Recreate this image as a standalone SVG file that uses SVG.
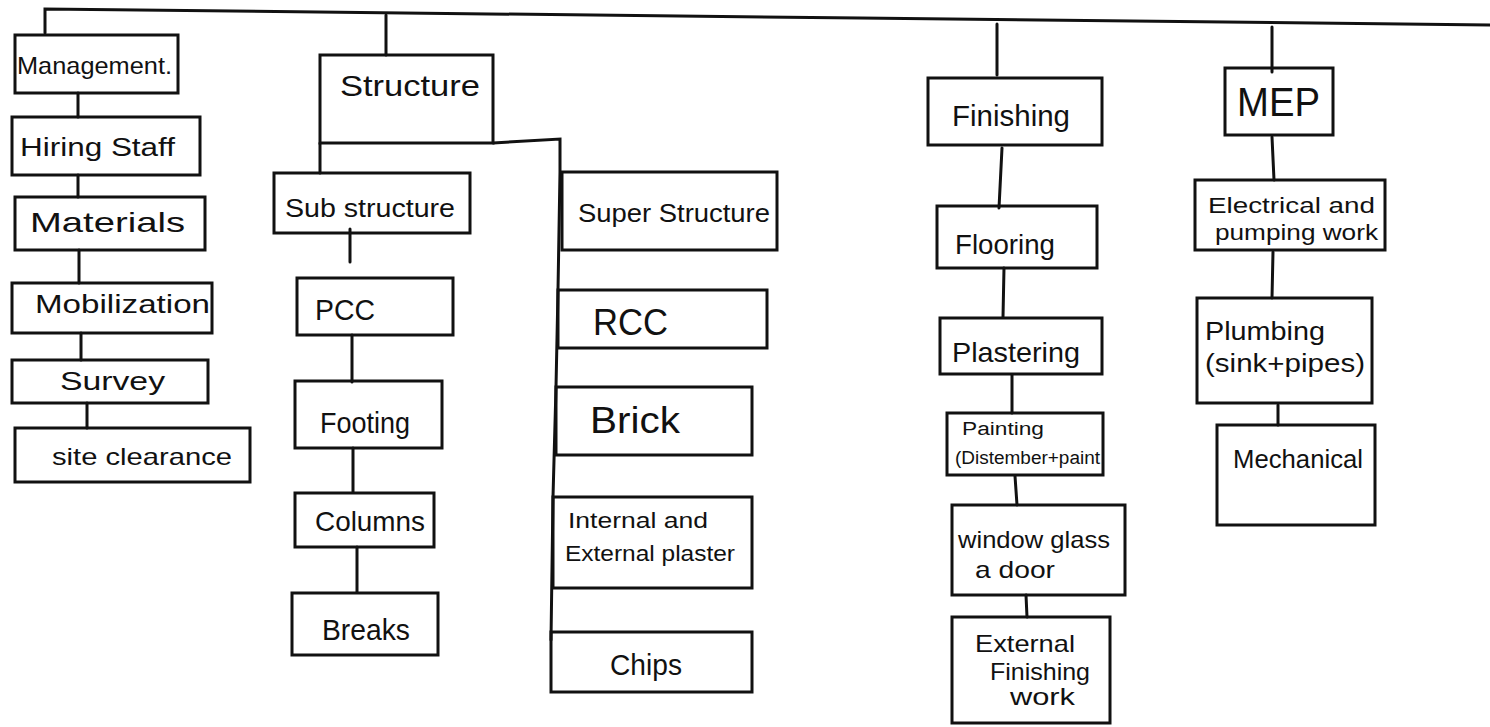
<svg xmlns="http://www.w3.org/2000/svg" width="1490" height="727" viewBox="0 0 1490 727">
<style>
.box{fill:none;stroke:#111;stroke-width:3;stroke-linejoin:miter}
.ln{fill:none;stroke:#111;stroke-width:3;stroke-linecap:round}
text{font-family:"Liberation Sans","DejaVu Sans",sans-serif;fill:#111}
</style>
<rect width="1490" height="727" fill="#fff"/>
<g id="connectors">
<path class="ln" d="M45 33 L45 9 L860 18 L1490 25"/>
<path class="ln" d="M78 93 L78 117"/>
<path class="ln" d="M78 175 L78 197"/>
<path class="ln" d="M79 250 L79 283"/>
<path class="ln" d="M81 333 L81 360"/>
<path class="ln" d="M87 403 L87 428"/>
<path class="ln" d="M386 15 L386 55"/>
<path class="ln" d="M320 143 L320 173"/>
<path class="ln" d="M493 143 L560 139 L560 172 L558 290 L556 387 L553 497 L551 640"/>
<path class="ln" d="M350 229 L350 262"/>
<path class="ln" d="M352 335 L352 382"/>
<path class="ln" d="M353 448 L353 492"/>
<path class="ln" d="M357 547 L357 592"/>
<path class="ln" d="M997 24 L997 75"/>
<path class="ln" d="M1002 148 L999 208"/>
<path class="ln" d="M1004 268 L1003 317"/>
<path class="ln" d="M1012 375 L1012 413"/>
<path class="ln" d="M1015 476 L1017 505"/>
<path class="ln" d="M1026 595 L1027 617"/>
<path class="ln" d="M1272 27 L1272 72"/>
<path class="ln" d="M1272 137 L1274 180"/>
<path class="ln" d="M1273 252 L1272 298"/>
<path class="ln" d="M1278 405 L1278 425"/>
</g>
<g id="management"><rect class="box" x="15" y="35" width="163" height="58"/><text x="17" y="74" font-size="24" textLength="155" lengthAdjust="spacingAndGlyphs">Management.</text></g>
<g id="hiring-staff"><rect class="box" x="12" y="117" width="188" height="58"/><text x="20" y="156" font-size="26" textLength="155" lengthAdjust="spacingAndGlyphs">Hiring Staff</text></g>
<g id="materials"><rect class="box" x="15" y="197" width="190" height="53"/><text x="30" y="232" font-size="28" textLength="155" lengthAdjust="spacingAndGlyphs">Materials</text></g>
<g id="mobilization"><rect class="box" x="12" y="283" width="200" height="50"/><text x="35" y="313" font-size="26" textLength="175" lengthAdjust="spacingAndGlyphs">Mobilization</text></g>
<g id="survey"><rect class="box" x="12" y="360" width="196" height="43"/><text x="60" y="390" font-size="26" textLength="105" lengthAdjust="spacingAndGlyphs">Survey</text></g>
<g id="site-clearance"><rect class="box" x="15" y="428" width="235" height="54"/><text x="52" y="465" font-size="24" textLength="180" lengthAdjust="spacingAndGlyphs">site clearance</text></g>
<g id="structure"><rect class="box" x="320" y="55" width="173" height="88"/><text x="340" y="96" font-size="30" textLength="140" lengthAdjust="spacingAndGlyphs">Structure</text></g>
<g id="sub-structure"><rect class="box" x="274" y="173" width="196" height="60"/><text x="285" y="217" font-size="26" textLength="170" lengthAdjust="spacingAndGlyphs">Sub structure</text></g>
<g id="super-structure"><rect class="box" x="562" y="172" width="215" height="78"/><text x="578" y="222" font-size="26" textLength="192" lengthAdjust="spacingAndGlyphs">Super Structure</text></g>
<g id="pcc"><rect class="box" x="297" y="278" width="156" height="57"/><text x="315" y="320" font-size="30" textLength="60" lengthAdjust="spacingAndGlyphs">PCC</text></g>
<g id="rcc"><rect class="box" x="558" y="290" width="209" height="58"/><text x="593" y="335" font-size="36" textLength="75" lengthAdjust="spacingAndGlyphs">RCC</text></g>
<g id="footing"><rect class="box" x="295" y="381" width="147" height="67"/><text x="320" y="433" font-size="30" textLength="90" lengthAdjust="spacingAndGlyphs">Footing</text></g>
<g id="columns"><rect class="box" x="295" y="493" width="139" height="54"/><text x="315" y="531" font-size="28" textLength="110" lengthAdjust="spacingAndGlyphs">Columns</text></g>
<g id="breaks"><rect class="box" x="292" y="593" width="146" height="62"/><text x="322" y="640" font-size="30" textLength="88" lengthAdjust="spacingAndGlyphs">Breaks</text></g>
<g id="brick"><rect class="box" x="556" y="387" width="196" height="68"/><text x="590" y="433" font-size="36" textLength="90" lengthAdjust="spacingAndGlyphs">Brick</text></g>
<g id="plaster"><rect class="box" x="553" y="497" width="199" height="91"/><text x="568" y="528" font-size="22" textLength="140" lengthAdjust="spacingAndGlyphs">Internal and</text><text x="565" y="561" font-size="22" textLength="170" lengthAdjust="spacingAndGlyphs">External plaster</text></g>
<g id="chips"><rect class="box" x="551" y="632" width="201" height="60"/><text x="610" y="675" font-size="30" textLength="72" lengthAdjust="spacingAndGlyphs">Chips</text></g>
<g id="finishing"><rect class="box" x="928" y="78" width="174" height="67"/><text x="952" y="126" font-size="30" textLength="118" lengthAdjust="spacingAndGlyphs">Finishing</text></g>
<g id="flooring"><rect class="box" x="937" y="206" width="160" height="62"/><text x="955" y="254" font-size="28" textLength="100" lengthAdjust="spacingAndGlyphs">Flooring</text></g>
<g id="plastering"><rect class="box" x="940" y="318" width="162" height="56"/><text x="952" y="362" font-size="28" textLength="128" lengthAdjust="spacingAndGlyphs">Plastering</text></g>
<g id="painting"><rect class="box" x="947" y="413" width="156" height="62"/><text x="962" y="435" font-size="18" textLength="82" lengthAdjust="spacingAndGlyphs">Painting</text><text x="955" y="464" font-size="18" textLength="145" lengthAdjust="spacingAndGlyphs">(Distember+paint</text></g>
<g id="window-glass"><rect class="box" x="952" y="505" width="173" height="90"/><text x="958" y="548" font-size="24" textLength="152" lengthAdjust="spacingAndGlyphs">window glass</text><text x="975" y="578" font-size="24" textLength="80" lengthAdjust="spacingAndGlyphs">a door</text></g>
<g id="external-finishing"><rect class="box" x="952" y="617" width="158" height="106"/><text x="975" y="652" font-size="24" textLength="100" lengthAdjust="spacingAndGlyphs">External</text><text x="990" y="680" font-size="24" textLength="100" lengthAdjust="spacingAndGlyphs">Finishing</text><text x="1010" y="705" font-size="24" textLength="65" lengthAdjust="spacingAndGlyphs">work</text></g>
<g id="mep"><rect class="box" x="1225" y="68" width="108" height="67"/><text x="1237" y="116" font-size="40" textLength="83" lengthAdjust="spacingAndGlyphs">MEP</text></g>
<g id="electrical"><rect class="box" x="1195" y="180" width="190" height="70"/><text x="1208" y="213" font-size="22" textLength="167" lengthAdjust="spacingAndGlyphs">Electrical and</text><text x="1215" y="240" font-size="22" textLength="163" lengthAdjust="spacingAndGlyphs">pumping work</text></g>
<g id="plumbing"><rect class="box" x="1197" y="298" width="175" height="105"/><text x="1205" y="340" font-size="26" textLength="120" lengthAdjust="spacingAndGlyphs">Plumbing</text><text x="1205" y="372" font-size="26" textLength="160" lengthAdjust="spacingAndGlyphs">(sink+pipes)</text></g>
<g id="mechanical"><rect class="box" x="1217" y="425" width="158" height="100"/><text x="1233" y="468" font-size="26" textLength="130" lengthAdjust="spacingAndGlyphs">Mechanical</text></g>
</svg>
